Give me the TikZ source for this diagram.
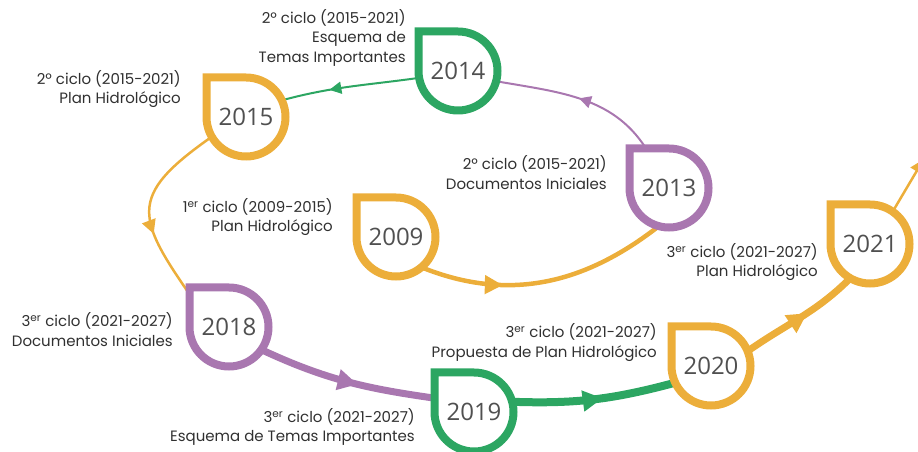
\documentclass[tikz,border=0pt]{standalone}
\usepackage{fontspec}
\setmainfont{Poppins}
\newfontfamily\anyofont{Open Sans}
\usetikzlibrary{arrows.meta,decorations.markings,backgrounds}

\definecolor{naranja}{HTML}{ECAE3A}
\definecolor{verde}{HTML}{2CA662}
\definecolor{morado}{HTML}{A977B0}
\definecolor{textogris}{HTML}{505050}
\definecolor{textonegro}{HTML}{303030}

\tikzset{
    gota/.style={circle, minimum size=79pt, inner sep=0pt, outer sep=0pt,
        text=textogris, font=\anyofont\fontsize{24}{24}\selectfont},
    borde/.style={line width=8pt, fill=white},
    etiqueta/.style={anchor=east, align=right, text=textonegro, inner sep=0pt,
        font=\fontsize{15}{19.5}\selectfont},
    conector/.style={line width=#1},
    flecha/.style 2 args={postaction={decorate},
        decoration={markings, mark=at position #1 with {\arrow{Triangle[length=#2pt, width=#2pt]}}}},
}

% gota: nombre, centro, color, anyo
\newcommand{\gota}[4]{%
    \draw[#3, borde] (#2) ++(-39.5,0) |- ++(39.5,39.5)
        arc[start angle=90, end angle=-180, radius=39.5pt] -- cycle;
    \node[gota] (#1) at (#2) {#4};
}

\begin{document}
\begin{tikzpicture}[x=1pt, y=1pt]
    \useasboundingbox (0,0) rectangle (918,452);

    % gotas
    \gota{y2009}{396,215}{naranja}{2009}
    \gota{y2013}{669,264}{morado}{2013}
    \gota{y2014}{458,381}{verde}{2014}
    \gota{y2015}{246,335}{naranja}{2015}
    \gota{y2018}{229,125}{morado}{2018}
    \gota{y2019}{474,40}{verde}{2019}
    \gota{y2020}{711,86}{naranja}{2020}
    \gota{y2021}{870,208}{naranja}{2021}
    \coordinate (salida) at (928,300);

    % etiquetas
    \node[etiqueta] (e2009) at (333,235) {1\textsuperscript{er} ciclo (2009-2015)\\Plan Hidrológico};
    \node[etiqueta] (e2013) at (607,279.5) {2º ciclo (2015-2021)\\Documentos Iniciales};
    \node[etiqueta] (e2014) at (406,414.5) {2º ciclo (2015-2021)\\Esquema de\hspace{5pt}\\Temas Importantes};
    \node[etiqueta] (e2015) at (181,363) {2º ciclo (2015-2021)\\Plan Hidrológico};
    \node[etiqueta] (e2018) at (173,122.5) {3\textsuperscript{er} ciclo (2021-2027)\\Documentos Iniciales};
    \node[etiqueta] (e2019) at (415,25) {3\textsuperscript{er} ciclo (2021-2027)\\Esquema de Temas Importantes};
    \node[etiqueta] (e2020) at (657,109.5) {3\textsuperscript{er} ciclo (2021-2027)\\Propuesta de Plan Hidrológico};
    \node[etiqueta] (e2021) at (818,190) {3\textsuperscript{er} ciclo (2021-2027)\\Plan Hidrológico};

    % conectores
    \begin{scope}[on background layer]
        \draw[conector=4.5pt, naranja, flecha={0.33}{18}] (y2009.-50) to[out=-22, in=218] (y2013.-105);
        \draw[conector=2pt, morado, flecha={0.52}{12}] (y2013.120) to[out=120, in=-10] (y2014.-15);
        \draw[conector=2pt, verde, flecha={0.65}{12}] (y2014.190) to[out=188, in=15] (y2015.25);
        \draw[conector=2.5pt, naranja, flecha={0.6}{14}] (y2015.210) to[out=215, in=125, looseness=1.6] (y2018.145);
        \draw[conector=7pt, morado, flecha={0.56}{20}] (y2018.-35) to[out=-25, in=172] (y2019.160);
        \draw[conector=8pt, verde, flecha={0.55}{20}] (y2019.15) to[out=-2, in=195] (y2020.205);
        \draw[conector=7pt, naranja, flecha={0.56}{20}] (y2020.22) to[out=35, in=225] (y2021.-120);
        \draw[conector=2.5pt, naranja, flecha={0.88}{14}] (y2021.55) to (salida);
    \end{scope}
\end{tikzpicture}
\end{document}
